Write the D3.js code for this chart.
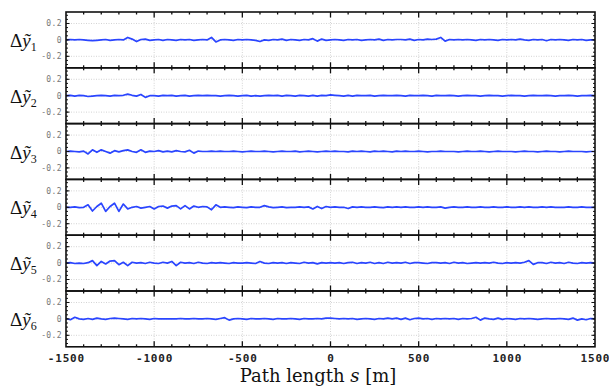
<!DOCTYPE html>
<html>
<head>
<meta charset="utf-8">
<script src="https://cdn.jsdelivr.net/npm/d3@7"></script>
<style>
  body { margin: 0; background: #fff; }
  svg { display: block; }
</style>
</head>
<body>
<svg id="chart" width="609" height="387"></svg>
<script>
// path length samples, every 25 m from -1500 to 1500
const pathLength = d3.range(-1500, 1501, 25);

const xTickValues = [-1500, -1000, -500, 0, 500, 1000, 1500];
const yTickValues = [0.2, 0, -0.2];
const panelLabels = ['1', '2', '3', '4', '5', '6'];

// deviation series (4 values per 100 m)
const dy1 = [
  0, 0.005, 0, 0.005,   0, -0.005, -0.01, -0.005,   0, 0.005, -0.005, 0,   0.005, 0, 0.03, 0.01,
  -0.02, 0.005, 0.01, -0.005,   0, 0.005, -0.005, 0.005,   0, -0.005, 0.005, 0,   0.005, -0.005, 0, 0.005,
  0, 0.03, -0.025, 0,   0.005, 0, -0.005, 0.005,   0, 0.005, 0, -0.005,   -0.02, 0, -0.005, 0.005,
  0, 0.01, -0.005, 0.005,   0, -0.005, 0.005, 0,   0.015, -0.015, 0.01, -0.005,
  0, 0.005, 0, -0.005,   0.005, 0, 0.005, -0.005,   0, 0.005, 0, 0.01,   -0.005, 0.005, 0, 0.005,
  0.005, 0, 0.01, -0.005,   0.005, 0, 0.01, 0.005,   0.01, 0.03, -0.015, 0.005,   0, 0.005, 0, 0.005,
  0, -0.005, 0.005, 0,   0.005, 0, -0.005, 0.005,   0, 0.005, 0, 0.01,   0, -0.005, 0.005, 0,
  0.005, -0.01, 0.005, 0,   0.005, 0, -0.005, 0.005,   0, 0.005, -0.005, 0,   0
];
const dy2 = [
  0, 0.005, -0.005, 0.005,   0, -0.01, -0.005, 0,   0.005, 0, -0.005, 0.005,   0, 0.005, 0.02, 0.005,
  -0.005, 0.015, -0.02, 0,   0, -0.005, 0.005, 0,   0.005, -0.005, 0, 0.005,   -0.005, 0, 0.005, 0,
  0.005, 0, 0, -0.005,   0, 0.005, 0, -0.005,   0, 0.005, -0.005, 0,   -0.005, 0, 0.005, 0,
  0.005, -0.005, 0.005, 0,   -0.005, 0.005, 0, -0.005,   0.005, -0.005, 0.005, 0,
  0.01, 0.005, 0, -0.005,   0.005, -0.005, 0.005, 0,   0, 0.005, -0.005, 0,   0.005, 0, 0, 0.005,
  0, -0.005, 0.005, 0,   0, 0.005, 0, -0.005,   0.005, 0, 0, 0.005,   0, -0.005, 0, 0.005,
  0, 0, -0.005, 0,   0.005, 0, 0, -0.005,   0, 0.005, 0, 0,   -0.005, 0, 0.005, 0,
  0, 0.005, 0, -0.005,   0, 0, 0.005, 0,   -0.005, 0, 0, 0.005,   0
];
const dy3 = [
  0, 0.005, 0, -0.005,   0.005, -0.03, 0.02, -0.01,   0.02, 0, -0.02, 0.01,   -0.005, 0.01, 0.02, 0,
  -0.01, 0.02, -0.01, 0.005,   0, 0.01, -0.005, 0.005,   -0.005, 0.01, 0, -0.005,   0.015, -0.02, 0.005, 0,
  0, 0.005, 0, 0.005,   0, 0, 0.005, 0,   -0.005, 0, 0.005, 0,   0, 0.005, 0, -0.005,
  0, 0.005, 0, 0,   0.005, -0.005, 0, 0.005,   0, -0.005, 0, 0.005,
  0, 0.005, 0, 0,   -0.005, 0.005, 0, 0.005,   0, -0.005, 0.005, 0,   0.005, 0, -0.005, 0.005,
  0, 0.005, 0, 0,   0.005, 0, -0.005, 0,   0, 0.005, 0, 0,   0, -0.005, 0, 0.005,
  0, 0, 0.005, 0,   -0.005, 0, 0.005, 0,   0, 0, -0.005, 0,   0.005, 0, 0, -0.005,
  0, 0.005, 0, 0,   -0.005, 0, 0.005, 0,   0, 0, -0.005, 0,   0
];
const dy4 = [
  0, 0, 0.005, -0.005,   0, 0.03, -0.045, 0.01,   0.05, -0.05, 0.01, 0.05,   -0.05, 0.04, -0.02, 0,
  0.01, -0.01, 0, 0.01,   -0.02, 0.01, 0.015, -0.01,   0.015, 0.02, -0.02, 0.02,   -0.02, 0.015, 0, 0.01,
  0.005, -0.03, 0.03, 0,   0.005, 0, -0.005, 0.005,   0, -0.005, 0.005, 0,   0, 0.02, 0.005, -0.005,
  0, 0.005, -0.005, 0,   0, 0.005, 0, 0.005,   -0.02, 0.01, -0.015, 0.01,
  0, 0.005, 0, 0,   -0.015, 0.005, 0, 0.005,   0, 0, 0.005, 0,   -0.005, 0.005, 0, 0.005,
  0, 0.005, 0, 0,   0.005, 0, 0.005, 0,   0, 0.005, -0.01, 0,   0.005, 0, 0, 0.005,
  0, 0, 0.005, 0,   0, 0.005, 0, 0,   0.005, 0, 0, 0.005,   0, 0.005, 0, 0,
  0.005, 0, 0.005, 0,   0, 0, 0.005, 0,   0, 0.005, 0, 0,   0
];
const dy5 = [
  0, 0.005, -0.005, 0,   -0.005, 0.005, 0.03, -0.03,   0.02, -0.01, 0.025, 0.03,   -0.02, 0.01, -0.03, 0.01,
  0, 0.005, -0.005, 0.01,   0, -0.005, 0.01, 0,   0.02, -0.03, 0.01, 0,   0.005, -0.005, 0.01, 0,
  -0.005, 0.005, 0, 0.005,   0, -0.005, 0.005, 0,   0, 0.005, 0, -0.005,   0.02, 0, -0.005, 0.005,
  0, 0.005, -0.005, 0.005,   0, -0.005, 0.01, 0,   0.005, -0.01, 0.005, 0,
  0.005, 0, 0.005, -0.005,   0.005, 0.01, -0.005, 0.005,   0, 0.01, -0.005, 0.005,   -0.005, 0.01, 0, 0.005,
  0, 0.01, -0.005, 0.005,   0.005, 0, -0.005, 0.005,   0.005, 0, 0.005, -0.005,   0.01, 0, 0.005, -0.005,
  0, 0.005, 0, 0.005,   0, 0.01, 0, -0.005,   0.005, 0, 0.005, 0,   0.01, 0.03, -0.015, 0.005,
  0.005, -0.005, 0.01, 0,   0.005, -0.005, 0.01, 0,   -0.005, 0.005, 0, 0.005,   0
];
const dy6 = [
  0.005, -0.01, 0.02, 0,   -0.005, 0.005, -0.005, 0.01,   0, -0.005, 0.005, 0.01,   0.005, 0, -0.005, 0.005,
  0, 0.005, 0, -0.005,   0.005, 0, 0, 0,   0, 0, 0.005, 0,   0, 0.005, 0, 0,
  0.005, 0, -0.005, 0.005,   0.015, -0.015, 0, 0.005,   0, -0.005, 0.005, 0,   0, 0.005, 0, -0.005,
  0.005, 0, 0, 0.005,   0, -0.005, 0.005, 0,   0, 0.005, 0, 0.01,
  0.01, 0.005, 0, 0.005,   0, 0.005, -0.005, 0,   0.005, 0, -0.005, 0.005,   0, 0.01, 0, 0.01,
  -0.005, 0.01, -0.01, 0.005,   0.01, 0, 0.005, -0.005,   0.005, 0, 0.005, 0,   0.005, -0.005, 0.005, 0,
  0.005, 0.02, -0.015, 0.01,   0, -0.005, 0.01, -0.005,   0.005, 0, -0.005, 0.005,   0, 0.005, 0, -0.005,
  0, 0.005, 0, 0,   0.005, 0, -0.005, 0.01,   -0.015, 0, -0.01, 0.005,   0
];
const series = [dy1, dy2, dy3, dy4, dy5, dy6];

const svg = d3.select('#chart');
const left = 66, right = 595, plotTop = 12, panelH = 55.8;

const x = d3.scaleLinear().domain([-1500, 1500]).range([left, right]);

series.forEach((values, i) => {
  const y0 = plotTop + i * panelH;
  const y = d3.scaleLinear().domain([-0.34, 0.34]).range([y0 + panelH, y0]);
  const g = svg.append('g');

  // dotted grid
  g.selectAll('line.hgrid')
    .data(yTickValues)
    .join('line')
    .attr('x1', left).attr('x2', right)
    .attr('y1', (d) => y(d)).attr('y2', (d) => y(d))
    .attr('stroke', '#c8c8c8')
    .attr('stroke-width', 0.8)
    .attr('stroke-dasharray', '1,1.5');
  g.selectAll('line.vgrid')
    .data(xTickValues.slice(1, -1))
    .join('line')
    .attr('x1', (d) => x(d)).attr('x2', (d) => x(d))
    .attr('y1', y0).attr('y2', y0 + panelH)
    .attr('stroke', '#c8c8c8')
    .attr('stroke-width', 0.8)
    .attr('stroke-dasharray', '1,1.5');

  // series line
  g.append('path')
    .datum(values)
    .attr('fill', 'none')
    .attr('stroke', '#2a45ff')
    .attr('stroke-width', 1.7)
    .attr('stroke-linejoin', 'round')
    .attr('d', d3.line().x((d, k) => x(pathLength[k])).y((d) => y(d)));

  // inward ticks on the x axis, top and bottom
  const minorX = d3.range(-1400, 1500, 100).filter((d) => d % 500 !== 0);
  const majorX = xTickValues.slice(1, -1);
  [[minorX, 2.5], [majorX, 5.5]].forEach(([vals, len]) => {
    g.selectAll(null).data(vals).join('line')
      .attr('x1', (d) => x(d)).attr('x2', (d) => x(d))
      .attr('y1', y0).attr('y2', y0 + len)
      .attr('stroke', '#111').attr('stroke-width', 1.3);
    g.selectAll(null).data(vals).join('line')
      .attr('x1', (d) => x(d)).attr('x2', (d) => x(d))
      .attr('y1', y0 + panelH).attr('y2', y0 + panelH - len)
      .attr('stroke', '#111').attr('stroke-width', 1.3);
  });

  // inward ticks on the y axes
  const minorY = d3.range(-0.3, 0.31, 0.05).map((d) => +d.toFixed(2));
  [[minorY, 2], [yTickValues, 3.5]].forEach(([vals, len]) => {
    g.selectAll(null).data(vals).join('line')
      .attr('x1', left).attr('x2', left + len)
      .attr('y1', (d) => y(d)).attr('y2', (d) => y(d))
      .attr('stroke', '#111').attr('stroke-width', 1);
    g.selectAll(null).data(vals).join('line')
      .attr('x1', right).attr('x2', right - len)
      .attr('y1', (d) => y(d)).attr('y2', (d) => y(d))
      .attr('stroke', '#111').attr('stroke-width', 1);
  });

  // y tick labels
  g.selectAll('text.ytick')
    .data(yTickValues)
    .join('text')
    .attr('x', left - 4)
    .attr('y', (d) => y(d))
    .attr('dy', '0.35em')
    .attr('text-anchor', 'end')
    .attr('font-family', 'DejaVu Sans Mono, monospace')
    .attr('font-size', 8)
    .attr('letter-spacing', 0.4)
    .attr('fill', '#777')
    .text((d) => (d === 0 ? '0' : d.toFixed(1)));

  // frame
  g.append('rect')
    .attr('x', left).attr('y', y0)
    .attr('width', right - left).attr('height', panelH)
    .attr('fill', 'none')
    .attr('stroke', '#111')
    .attr('stroke-width', 1.6);

  // panel label
  const lab = g.append('text')
    .attr('x', 10)
    .attr('y', y(0) + 7)
    .attr('font-family', 'Liberation Serif, serif')
    .attr('font-size', 19)
    .attr('fill', '#111');
  lab.append('tspan').text('Δ');
  lab.append('tspan').attr('font-style', 'italic').text('ỹ');
  lab.append('tspan').attr('font-size', 12).attr('dy', 4).text(panelLabels[i]);
});

// x tick labels under the bottom panel
const plotBottom = plotTop + 6 * panelH;
svg.selectAll('text.xtick')
  .data(xTickValues)
  .join('text')
  .attr('x', (d) => x(d) + 0.4)
  .attr('y', plotBottom + 15)
  .attr('text-anchor', 'middle')
  .attr('font-family', 'DejaVu Sans Mono, monospace')
  .attr('font-weight', 'bold')
  .attr('font-size', 11)
  .attr('letter-spacing', 0.8)
  .attr('fill', '#222')
  .text((d) => d);

const xl = svg.append('text')
  .attr('x', 318)
  .attr('y', 382)
  .attr('text-anchor', 'middle')
  .attr('font-family', 'DejaVu Serif, serif')
  .attr('font-size', 18)
  .attr('fill', '#111');
xl.append('tspan').text('Path length ');
xl.append('tspan').attr('font-style', 'italic').text('s');
xl.append('tspan').text(' [m]');
</script>
</body>
</html>
